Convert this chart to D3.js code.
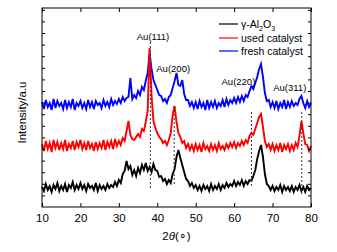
<!DOCTYPE html>
<html>
<head>
<meta charset="utf-8">
<script src="https://cdn.jsdelivr.net/npm/d3@7"></script>
<style>
  body { margin: 0; background: #fff; }
  svg { display: block; font-family: "Liberation Sans", Arial, sans-serif; }
</style>
</head>
<body>
<div id="chart"></div>
<script>
// XRD patterns, 2theta from 10 to 80 in 0.5 degree steps
const thetaStart = 10;
const thetaStep = 0.5;

// stacked intensities (a.u.)
const alumina = [
  20,16,23,17,21,15,22,18,24,16,
  21,17,23,15,22,19,25,17,22,18,
  24,18,22,16,23,19,21,17,24,16,
  22,18,21,17,23,19,22,20,25,21,
  27,24,33,36,46,38,41,32,37,31,
  39,34,42,37,44,36,40,35,43,37,
  36,30,31,26,28,23,27,24,33,38,
  50,57,49,42,35,28,26,21,24,19,
  22,17,21,16,22,18,21,16,23,17,
  21,18,23,17,22,19,24,20,23,21,
  26,21,25,22,27,21,26,23,27,26,
  31,37,48,56,62,50,33,23,21,17,
  21,16,20,17,22,15,21,17,20,16,
  21,15,20,17,22,16,20,15,21,17,
  19
];
const usedCatalyst = [
  63,56,66,58,64,55,67,59,65,57,
  64,58,67,56,63,59,66,57,65,60,
  67,58,64,57,66,59,63,56,65,58,
  64,59,67,57,65,60,66,58,68,61,
  66,62,69,66,76,86,72,68,67,70,
  73,70,78,76,85,96,159,112,86,79,
  74,70,68,64,66,62,67,74,92,101,
  85,74,70,64,66,59,63,57,62,56,
  63,57,62,55,64,58,61,56,63,57,
  62,56,64,58,61,57,63,59,64,60,
  65,59,64,61,66,62,67,64,71,74,
  72,78,84,90,93,80,66,60,63,57,
  63,56,62,57,64,55,62,58,63,56,
  62,57,64,60,71,86,74,63,62,56,
  61
];
const freshCatalyst = [
  105,98,107,100,104,97,108,99,106,101,
  104,98,107,99,105,100,108,97,104,101,
  106,99,104,98,107,100,105,98,106,102,
  104,99,107,101,105,100,108,102,106,103,
  108,104,110,106,109,110,129,108,112,109,
  116,112,120,117,126,134,154,138,127,122,
  117,112,111,106,108,104,110,112,119,126,
  134,122,121,127,113,107,107,101,105,99,
  105,98,106,100,104,97,107,99,105,100,
  106,99,104,101,107,100,108,102,107,104,
  109,104,110,105,111,106,112,110,116,121,
  118,124,130,138,143,130,114,106,107,100,
  105,99,106,98,104,100,107,98,105,100,
  106,101,104,102,108,111,104,99,106,100,
  104
];

const seriesNames = ["\u03b3-Al2O3", "used catalyst", "fresh catalyst"];
const seriesColors = ["#000000", "#ff0000", "#0000ff"];

// Au reflections and the span of their dashed guide lines
const peakNames = ["Au(111)", "Au(200)", "Au(220)", "Au(311)"];
const peakPos = [38.2, 44.4, 64.5, 77.6];
const peakTop = [165, 101, 95, 95];
const peakBottom = [19, 21, 19, 11];

const xTicks = [10, 20, 30, 40, 50, 60, 70, 80];

const width = 337, height = 252;
const margin = { left: 42, right: 26, top: 8, bottom: 45 };
const iw = width - margin.left - margin.right;
const ih = height - margin.top - margin.bottom;

const svg = d3.select("#chart").append("svg")
  .attr("width", width)
  .attr("height", height);

const x = d3.scaleLinear().domain([10, 80]).range([margin.left, margin.left + iw]);
const y = d3.scaleLinear().domain([0, 199]).range([margin.top + ih, margin.top]);

const toPoints = vals => vals.map((v, i) => [thetaStart + i * thetaStep, v]);
const line = d3.line().x(d => x(d[0])).y(d => y(d[1]));

const allSeries = [alumina, usedCatalyst, freshCatalyst];

// draw fresh first, alumina last
[2, 1, 0].forEach(k => {
  svg.append("path")
    .attr("d", line(toPoints(allSeries[k])))
    .attr("fill", "none")
    .attr("stroke", seriesColors[k])
    .attr("stroke-width", 1.9)
    .attr("stroke-linejoin", "miter");
});

// dashed guides
peakPos.forEach((p, i) => {
  svg.append("line")
    .attr("x1", x(p)).attr("x2", x(p))
    .attr("y1", y(peakTop[i])).attr("y2", y(peakBottom[i]))
    .attr("stroke", "#333")
    .attr("stroke-width", 1)
    .attr("stroke-dasharray", "2,2");
});

// peak labels (offsets are layout only)
const labelDx = [2.6, -1, -13, -12];
const labelY = [40, 72, 85, 91];
peakNames.forEach((n, i) => {
  svg.append("text")
    .attr("x", x(peakPos[i]) + labelDx[i])
    .attr("y", labelY[i])
    .attr("text-anchor", "middle")
    .attr("font-size", "9.5px")
    .text(n);
});

// axes with inward ticks on all sides
const xAxisB = d3.axisBottom(x).tickValues(xTicks).tickSizeInner(-4).tickSizeOuter(0).tickPadding(7);
const gx = svg.append("g").attr("transform", `translate(0,${margin.top + ih})`).call(xAxisB);
gx.selectAll("text").attr("font-size", "11.5px").attr("fill", "#000").style("font-family", "Liberation Sans, Arial, sans-serif");

svg.append("g").attr("transform", `translate(0,${margin.top})`)
  .call(d3.axisTop(x).tickValues(xTicks).tickSizeInner(-4).tickSizeOuter(0).tickFormat(""));

const yTickVals = d3.range(11.6, 199, 11.6);
svg.append("g").attr("transform", `translate(${margin.left},0)`)
  .call(d3.axisLeft(y).tickValues(yTickVals).tickSizeInner(-3).tickSizeOuter(0).tickFormat(""));
svg.append("g").attr("transform", `translate(${margin.left + iw},0)`)
  .call(d3.axisRight(y).tickValues(yTickVals).tickSizeInner(-3).tickSizeOuter(0).tickFormat(""));

svg.selectAll(".domain").remove();
svg.selectAll(".tick line").attr("stroke", "#000");

// frame
svg.append("rect")
  .attr("x", margin.left).attr("y", margin.top)
  .attr("width", iw).attr("height", ih)
  .attr("fill", "none").attr("stroke", "#000").attr("stroke-width", 1);

// axis titles
const xt = svg.append("text")
  .attr("x", x(45)).attr("y", 240)
  .attr("text-anchor", "middle")
  .attr("font-size", "11.5px");
xt.append("tspan").text("2");
xt.append("tspan").attr("font-style", "italic").text("\u03b8");
xt.append("tspan").text("(\u2218)");

svg.append("text")
  .attr("transform", `translate(26,${margin.top + ih / 2 + 5}) rotate(-90)`)
  .attr("text-anchor", "middle")
  .attr("font-size", "11.5px")
  .text("Intensity/a.u");

// legend
const lg = svg.append("g");
const legY = [24, 38, 51];
seriesNames.forEach((n, i) => {
  lg.append("line")
    .attr("x1", 219).attr("x2", 238)
    .attr("y1", legY[i]).attr("y2", legY[i])
    .attr("stroke", seriesColors[i]).attr("stroke-width", 1.2);
  const t = lg.append("text")
    .attr("x", 241).attr("y", legY[i] + 3.8)
    .attr("font-size", "10.5px");
  if (i === 0) {
    t.append("tspan").text("\u03b3-Al");
    t.append("tspan").attr("dy", 3).attr("font-size", "7px").text("2");
    t.append("tspan").attr("dy", -3).text("O");
    t.append("tspan").attr("dy", 3).attr("font-size", "7px").text("3");
  } else {
    t.text(n);
  }
});
</script>
</body>
</html>
